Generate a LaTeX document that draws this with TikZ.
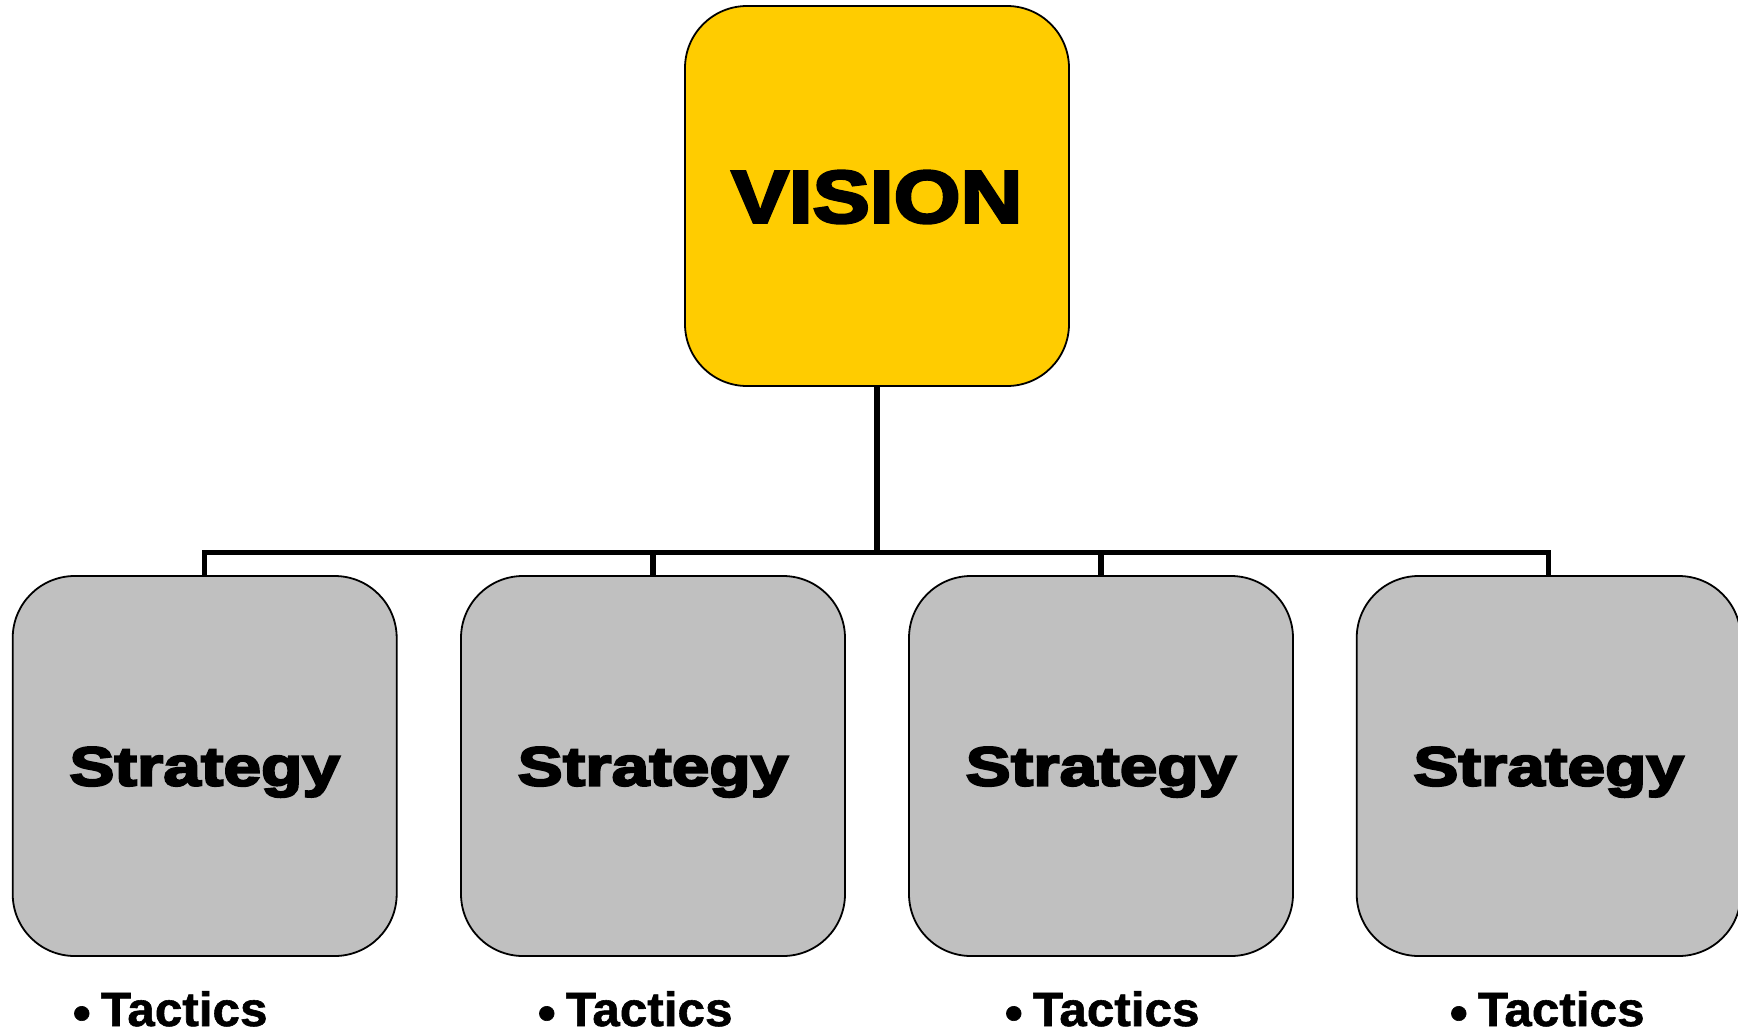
\documentclass[tikz,border=0pt]{standalone}
\usepackage{fontspec}
\setmainfont{Liberation Sans}
\newfontfamily\visfont{Liberation Sans Bold}[FakeBold=4,FakeStretch=1.16]
\newfontfamily\strfont{Liberation Sans Bold}[FakeBold=4,FakeStretch=1.23]
\newfontfamily\tacfont{Liberation Sans Bold}[FakeBold=1.2,FakeStretch=1.03]
\definecolor{visionyellow}{HTML}{FFCC00}
\definecolor{stratgray}{HTML}{C0C0C0}
\tikzset{
  visionbox/.style={draw=black, line width=1.8pt, fill=visionyellow, rounded corners=62pt,
    minimum width=384pt, minimum height=380pt, inner sep=0pt,
    font=\visfont\fontsize{74}{80}\selectfont, text height=53pt, text depth=0pt},
  stratbox/.style={draw=black, line width=1.8pt, fill=stratgray, rounded corners=62pt,
    minimum width=384pt, minimum height=380pt, inner sep=0pt,
    font=\strfont\fontsize{55}{60}\selectfont, text height=39pt, text depth=0pt},
  tactic/.style={anchor=base west, inner sep=0pt, font=\tacfont\fontsize{48}{50}\selectfont},
  conn/.style={draw=black, line width=5.5pt}
}
\newcommand{\tacbullet}{\raisebox{-4pt}{\fontsize{50}{50}\selectfont •}\hspace{10pt}}
\begin{document}
\begin{tikzpicture}[x=1pt,y=-1pt]
\useasboundingbox[fill=white] (0,0) rectangle (1738,1034);
\node[visionbox] (vision) at (877,196) {VISION};
\node[stratbox] (s1) at (204.7,766) {Strategy};
\node[stratbox] (s2) at (653,766) {Strategy};
\node[stratbox] (s3) at (1101,766) {Strategy};
\node[stratbox] (s4) at (1548.7,766) {Strategy};
\coordinate (bus) at (877,552.7);
\draw[conn] (vision.south) -- (bus);
\draw[conn] (s1.north) -- (s1.north |- bus) -- (s4.north |- bus) -- (s4.north);
\draw[conn] (s2.north) -- (s2.north |- bus);
\draw[conn] (s3.north) -- (s3.north |- bus);
\node[tactic] (t1) at (72.6,1026) {\tacbullet Tactics};
\node[tactic] (t2) at (537.6,1026) {\tacbullet Tactics};
\node[tactic] (t3) at (1004.6,1026) {\tacbullet Tactics};
\node[tactic] (t4) at (1449.6,1026) {\tacbullet Tactics};
\end{tikzpicture}
\end{document}
